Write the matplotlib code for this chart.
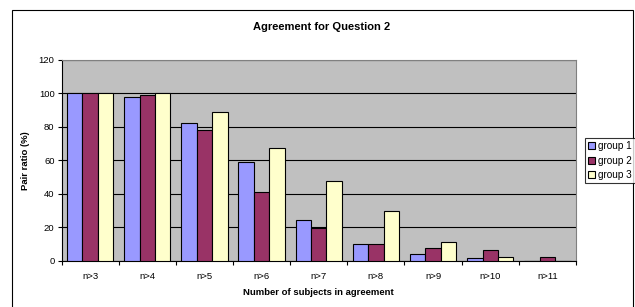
import matplotlib
matplotlib.use("Agg")
import matplotlib.pyplot as plt
from matplotlib.patches import Rectangle
import numpy as np

plt.rcParams['font.family'] = ['Liberation Sans', 'DejaVu Sans']

# data
categories = ["n>3", "n>4", "n>5", "n>6", "n>7", "n>8", "n>9", "n>10", "n>11"]
group1 = [100, 97.5, 82, 59, 24.5, 10, 4, 1.5, 0]
group2 = [100, 99, 78, 41, 19.5, 10, 7.5, 6.5, 2.5]
group3 = [100, 100, 88.5, 67, 47.5, 29.5, 11.5, 2.5, 0]
series_names = ["group 1", "group 2", "group 3"]
colors = ["#9999FF", "#993366", "#FFFFCC"]

W, H = 635, 307
fig = plt.figure(figsize=(W / 100, H / 100), dpi=100)
fig.patch.set_facecolor("white")

# outer chart border
fig.patches.append(Rectangle((12 / W, -0.05), (633 - 12) / W, 1.05 - 10 / H,
                             transform=fig.transFigure, fill=False,
                             edgecolor="black", linewidth=0.8))

ax = fig.add_axes([61.5 / W, 1 - 261 / H, (576 - 61.5) / W, (261 - 59.5) / H])
ax.set_facecolor("#C0C0C0")

x = np.arange(len(categories))
bw = 0.27
for i, (vals, name, c) in enumerate(zip([group1, group2, group3], series_names, colors)):
    ax.bar(x + (i - 1) * bw, vals, bw, color=c, edgecolor="black",
           linewidth=0.8, label=name, zorder=3)

ax.set_xlim(-0.5, len(categories) - 0.5)
ax.set_ylim(0, 120)
ax.set_yticks(range(0, 121, 20))
ax.yaxis.grid(True, color="black", linewidth=0.8, zorder=1)
ax.set_axisbelow(True)

ax.set_xticks(x)
ax.set_xticklabels(categories)
ax.set_xticks(np.arange(-0.5, len(categories), 1), minor=True)
ax.tick_params(axis="x", which="major", length=0, labelsize=6.8, pad=8)
ax.tick_params(axis="x", which="minor", length=3, width=0.8, direction="out")
ax.tick_params(axis="y", length=3, width=0.8, labelsize=6.8, pad=2)

for s in ["left", "bottom"]:
    ax.spines[s].set_color("black")
    ax.spines[s].set_linewidth(0.8)
for s in ["top", "right"]:
    ax.spines[s].set_color("#808080")
    ax.spines[s].set_linewidth(0.8)

ax.set_xlabel("Number of subjects in agreement", fontsize=6.8, fontweight="bold", labelpad=5)
ax.set_ylabel("Pair ratio (%)", fontsize=6.8, fontweight="bold", labelpad=6)
fig.text(0.5 * (61.5 + 576) / W + 0.005, 1 - 27 / H, "Agreement for Question 2",
         ha="center", va="center", fontsize=8, fontweight="bold")

leg = fig.legend(loc="center left", bbox_to_anchor=(585 / W, 1 - 160.5 / H),
                 fontsize=7.2, frameon=True, fancybox=False, handlelength=0.7,
                 handleheight=0.7, handletextpad=0.3, borderpad=0.3,
                 labelspacing=0.45, borderaxespad=0)
leg.get_frame().set_edgecolor("black")
leg.get_frame().set_linewidth(0.8)

fig.savefig("out.png", dpi=100)
